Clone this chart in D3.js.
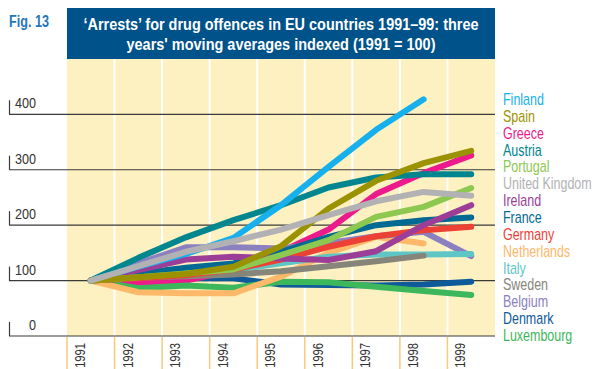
<!DOCTYPE html>
<html>
<head>
<meta charset="utf-8">
<script src="https://cdn.jsdelivr.net/npm/d3@7"></script>
<style>
  html, body { margin: 0; padding: 0; background: #fff; }
  svg { display: block; font-family: "Liberation Sans", Arial, sans-serif; }
</style>
</head>
<body>
<svg id="chart" width="596" height="369"></svg>
<script>
// Years on the x axis and index ticks on the y axis
const years = [1991, 1992, 1993, 1994, 1995, 1996, 1997, 1998, 1999];
const yTicks = [0, 100, 200, 300, 400];

// Countries in legend order, with their colours
const countries = ["Finland", "Spain", "Greece", "Austria", "Portugal", "United Kingdom", "Ireland",
  "France", "Germany", "Netherlands", "Italy", "Sweden", "Belgium", "Denmark", "Luxembourg"];
const colours = ["#16b1ec", "#9b9200", "#ec1a8c", "#00868f", "#8dc850", "#b2b2b4", "#9c3e98",
  "#006a92", "#ee4136", "#fdb86a", "#5ec7c5", "#86857a", "#8b81c1", "#0f5b9a", "#3db75b"];

// Three-year moving averages, indexed 1991 = 100 (null = no value)
const finland     = [100, 125, 148, 177, 236, 305, 372, 427, null];
const spain       = [100, 106, 112, 125, 162, 230, 280, 312, 334];
const greece      = [100,  96, 100, 118, 152, 192, 256, 294, 326];
const austria     = [100, 141, 178, 209, 236, 268, 286, 292, 292];
const portugal    = [100, 106, 113, 120, 146, 173, 215, 233, 267];
const unitedKingdom = [100, 126, 152, 171, 192, 218, 243, 260, 253];
const ireland     = [100, 119, 138, 143, 140, 137, 153, 200, 236];
const france      = [100, 113, 123, 131, 152, 179, 200, 209, 214];
const germany     = [100, 104, 110, 120, 138, 161, 180, 191, 197];
const netherlands = [100,  79,  77,  77, 107, 150, 179, 167, null];
const italy       = [100, 108, 114, 119, 131, 143, 147, 147, 148];
const sweden      = [100, 105, 108, 111, 117, 126, 135, 145, null];
const belgium     = [100, 131, 160, 160, 158, 168, 180, 188, 144];
const denmark     = [100, 103, 104, 104,  93,  92,  91,  93,  98];
const luxembourg  = [100,  86,  91,  87,  98,  97,  89,  81,  74];

const values = [finland, spain, greece, austria, portugal, unitedKingdom, ireland,
  france, germany, netherlands, italy, sweden, belgium, denmark, luxembourg];

// Order in which lines are stacked (first = bottom)
const drawOrder = ["Denmark", "Greece", "Luxembourg", "Netherlands", "Belgium", "Italy", "Sweden", "Germany",
  "France", "Ireland", "Portugal", "Austria", "Finland", "Spain", "United Kingdom"];

const series = countries.map((name, i) => ({
  name,
  colour: colours[i],
  points: years.map((yr, j) => ({ year: yr, value: values[i][j] })).filter(p => p.value !== null)
}));

const svg = d3.select("#chart");

const panel = { left: 67, right: 495, top: 59, bottom: 336 };

const x = d3.scaleBand().domain(years).range([panel.left, panel.right]).padding(0);
const y = d3.scaleLinear().domain([0, 400]).range([panel.bottom, 114.3]);
const cx = yr => x(yr) + x.bandwidth() / 2;

// Condensed lettering: regular sans squeezed horizontally
const narrow = 0.8;

// Title bar
svg.append("rect")
  .attr("x", panel.left).attr("y", 8)
  .attr("width", panel.right - panel.left).attr("height", panel.top - 8)
  .attr("fill", "#00528a");

const titleLines = [
  { text: "\u2018Arrests\u2019 for drug offences in EU countries 1991\u201399: three", width: 395 },
  { text: "years' moving averages indexed (1991 = 100)", width: 309 }
];
svg.append("g").selectAll("text").data(titleLines).join("text")
  .attr("x", (panel.left + panel.right) / 2)
  .attr("y", (d, i) => 30 + i * 20)
  .attr("text-anchor", "middle")
  .attr("fill", "#ffffff")
  .attr("font-weight", "bold")
  .attr("font-size", 16.3)
  .attr("textLength", d => d.width)
  .attr("lengthAdjust", "spacingAndGlyphs")
  .text(d => d.text);

svg.append("text")
  .attr("x", 9).attr("y", 27)
  .attr("fill", "#2277bb")
  .attr("font-weight", "bold")
  .attr("font-size", 16)
  .attr("textLength", 40)
  .attr("lengthAdjust", "spacingAndGlyphs")
  .text("Fig. 13");

// Yellow plotting panel with white column separators
svg.append("rect")
  .attr("x", panel.left).attr("y", panel.top)
  .attr("width", panel.right - panel.left).attr("height", panel.bottom - panel.top)
  .attr("fill", "#fdf0c1");

svg.append("g").selectAll("line").data(years.slice(1)).join("line")
  .attr("x1", d => x(d)).attr("x2", d => x(d))
  .attr("y1", panel.top).attr("y2", panel.bottom)
  .attr("stroke", "#ffffff").attr("stroke-width", 2);

// Horizontal gridlines with left tick marks and labels
const grid = svg.append("g");
grid.selectAll("line.h").data(yTicks).join("line")
  .attr("class", "h")
  .attr("x1", 9).attr("x2", panel.right)
  .attr("y1", d => y(d)).attr("y2", d => y(d))
  .attr("stroke", "#3a3a3a").attr("stroke-width", 1.2);
grid.selectAll("line.t").data(yTicks).join("line")
  .attr("class", "t")
  .attr("x1", 9.5).attr("x2", 9.5)
  .attr("y1", d => y(d)).attr("y2", d => y(d) - 14)
  .attr("stroke", "#3a3a3a").attr("stroke-width", 1.2);
grid.selectAll("text").data(yTicks).join("text")
  .attr("transform", d => `translate(36,${y(d) - 6}) scale(0.84,1)`)
  .attr("text-anchor", "end")
  .attr("font-size", 15)
  .attr("fill", "#333")
  .text(d => d);

// Year ticks and rotated year labels below the axis
const xa = svg.append("g");
xa.selectAll("line").data(years).join("line")
  .attr("x1", d => x(d)).attr("x2", d => x(d))
  .attr("y1", panel.bottom + 1).attr("y2", 369)
  .attr("stroke", "#f9c97a").attr("stroke-width", 1.5);
xa.selectAll("text").data(years).join("text")
  .attr("transform", d => `translate(${x(d) + 18},343) rotate(-90) scale(${narrow},1)`)
  .attr("text-anchor", "end")
  .attr("font-size", 14)
  .attr("fill", "#333")
  .text(d => d);

// Lines
const line = d3.line().x(d => cx(d.year)).y(d => y(d.value));
const ordered = drawOrder.map(n => series.find(s => s.name === n));
svg.append("g").selectAll("path").data(ordered).join("path")
  .attr("d", d => line(d.points))
  .attr("fill", "none")
  .attr("stroke", d => d.colour)
  .attr("stroke-width", 6)
  .attr("stroke-linecap", "round")
  .attr("stroke-linejoin", "round");

// Legend
svg.append("g").selectAll("text").data(series).join("text")
  .attr("transform", (d, i) => `translate(503,${105 + i * 16.86}) scale(0.78,1)`)
  .attr("font-size", 16)
  .attr("fill", d => d.colour)
  .text(d => d.name);
</script>
</body>
</html>
